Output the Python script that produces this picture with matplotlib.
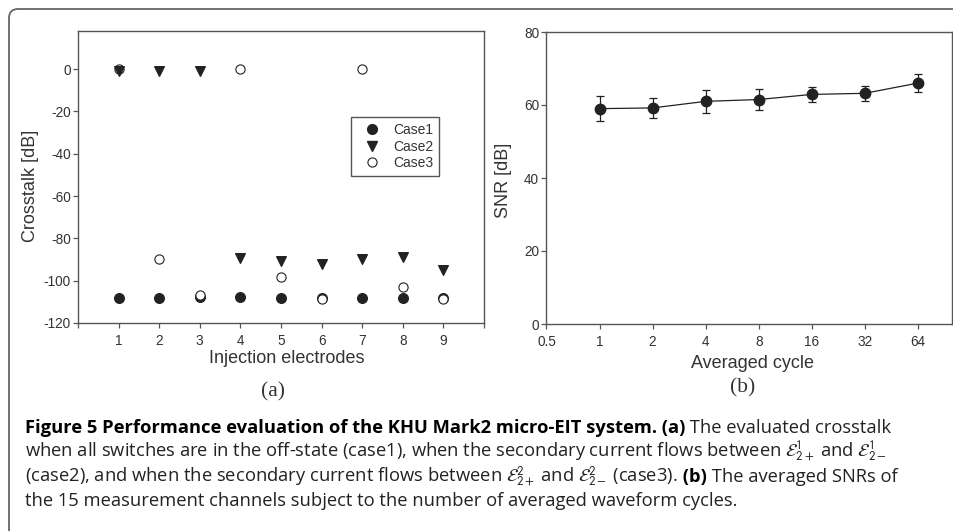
import numpy as np
import matplotlib
matplotlib.use('Agg')
import matplotlib.pyplot as plt
from matplotlib import font_manager
from matplotlib.lines import Line2D
from matplotlib.patches import FancyBboxPatch
from matplotlib.transforms import IdentityTransform

# Panel (a): crosstalk per injection electrode
electrodes = [1, 2, 3, 4, 5, 6, 7, 8, 9]
case1 = [-108.0, -108.0, -107.8, -107.6, -108.0, -108.4, -108.0, -108.2, -108.3]
case2 = [-0.8, -0.8, -0.8, -89.4, -90.6, -92.1, -89.6, -88.7, -95.0]
case3 = [0.2, -89.8, -106.6, 0.2, -98.4, -108.6, 0.2, -102.8, -108.8]

# Panel (b): SNR vs averaged cycles
cycles = [1, 2, 4, 8, 16, 32, 64]
snr = [59.0, 59.2, 61.0, 61.5, 62.9, 63.2, 66.0]
snr_err = [3.4, 2.7, 3.2, 2.9, 2.1, 2.0, 2.5]
cycle_ticks = [0.5, 1, 2, 4, 8, 16, 32, 64]
cycle_labels = ['0.5', '1', '2', '4', '8', '16', '32', '64']

W, H = 954, 531
plt.rcParams['font.family'] = ['Liberation Sans', 'DejaVu Sans']
plt.rcParams['axes.unicode_minus'] = False
plt.rcParams['mathtext.fontset'] = 'stixsans'

mk = '#222222'
spine_c = '#555555'
txt_c = '#333333'

fig = plt.figure(figsize=(W / 100, H / 100), dpi=100)

# outer frame, clipped at right and bottom like the page crop
frame = FancyBboxPatch((9, -60), 1100, H - 9 + 60, boxstyle='round,pad=0,rounding_size=9',
                       transform=IdentityTransform(), facecolor='none', edgecolor='#666666', lw=1.3)
fig.add_artist(frame)


def style_axes(ax):
    for s in ax.spines.values():
        s.set_color(spine_c)
        s.set_linewidth(1.0)
    ax.tick_params(direction='out', length=3.8, width=0.9, color=spine_c,
                   labelsize=9.8, labelcolor=txt_c, top=False, right=False)
    ax.tick_params(axis='x', pad=4)
    ax.tick_params(axis='y', pad=1.5)


# ---- panel (a)
ax1 = fig.add_axes([78 / W, 1 - 323 / H, 406 / W, 292 / H])
ax1.scatter(electrodes, case1, s=48, marker='o', color=mk, zorder=3)
ax1.scatter(electrodes, case3, s=44, marker='o', facecolor='white', edgecolor=mk, linewidth=0.8, zorder=4)
ax1.scatter(electrodes, case2, s=48, marker='v', color=mk, zorder=5)
ax1.set_xlim(0, 10)
ax1.set_ylim(-120, 18)
ax1.set_xticks(range(0, 11))
ax1.set_xticklabels([''] + [str(e) for e in electrodes] + [''])
ax1.set_yticks(range(-120, 1, 20))
style_axes(ax1)
ax1.set_ylabel('Crosstalk [dB]', fontsize=13, color=txt_c)
ax1.set_xlabel('Injection electrodes', fontsize=13, color=txt_c)
ax1.yaxis.set_label_coords(-0.097, 0.47)
ax1.xaxis.set_label_coords(0.515, -0.094)

handles = [
    Line2D([], [], ls='none', marker='o', ms=7, color=mk),
    Line2D([], [], ls='none', marker='v', ms=7, color=mk),
    Line2D([], [], ls='none', marker='o', ms=6.6, mfc='white', mec=mk, mew=0.8),
]
leg = ax1.legend(handles, ['Case1', 'Case2', 'Case3'], loc='upper left', bbox_to_anchor=(0.672, 0.705),
                 borderaxespad=0, fontsize=10, labelspacing=0.18, borderpad=0.44, handlelength=2.2,
                 handletextpad=0.4, fancybox=False, framealpha=1, edgecolor=spine_c)
leg.get_frame().set_linewidth(1.0)
for t in leg.get_texts():
    t.set_color(txt_c)

# ---- panel (b)
ax2 = fig.add_axes([546.5 / W, 1 - 324 / H, 405.5 / W, 292 / H])
ax2.errorbar(cycles, snr, yerr=snr_err, marker='o', ms=7.5, color=mk, lw=0.9,
             elinewidth=0.9, capsize=3.2, capthick=0.9)
ax2.set_xscale('log', base=2)
ax2.set_xlim(0.5, 100)
ax2.set_ylim(0, 80)
ax2.set_xticks(cycle_ticks)
ax2.set_xticklabels(cycle_labels)
ax2.minorticks_off()
ax2.set_yticks(range(0, 81, 20))
style_axes(ax2)
ax2.set_ylabel('SNR [dB]', fontsize=13, color=txt_c)
ax2.set_xlabel('Averaged cycle', fontsize=13, color=txt_c)
ax2.yaxis.set_label_coords(-0.085, 0.493)
ax2.xaxis.set_label_coords(0.507, -0.106)

fig.text(273 / W, 1 - 392 / H, '(a)', family='Liberation Serif', fontsize=15.5, color=txt_c,
         ha='center', va='center')
fig.text(743 / W, 1 - 388 / H, '(b)', family='Liberation Serif', fontsize=15.5, color=txt_c,
         ha='center', va='center')

# ---- caption
available = {f.name for f in font_manager.fontManager.ttflist}
cap_font = next((f for f in ['Open Sans', 'Noto Sans', 'Lato'] if f in available), 'DejaVu Sans')

caption = [
    [('Figure 5 Performance evaluation of the KHU Mark2 micro-EIT system. (a)', 'bold'),
     (' The evaluated crosstalk', 'normal')],
    [(r'when all switches are in the off-state (case1), when the secondary current flows between '
      r'$\mathcal{E}^{1}_{2+}$ and $\mathcal{E}^{1}_{2-}$', 'normal')],
    [(r'(case2), and when the secondary current flows between $\mathcal{E}^{2}_{2+}$ and '
      r'$\mathcal{E}^{2}_{2-}$ (case3).', 'normal'),
     (' (b)', 'bold'), (' The averaged SNRs of', 'normal')],
    [('the 15 measurement channels subject to the number of averaged waveform cycles.', 'normal')],
]
baselines = [433, 457.5, 482, 506]
cap_x = 25
renderer = fig.canvas.get_renderer()


def draw_line(pieces, y, size):
    x = cap_x
    arts = []
    for s, w in pieces:
        t = fig.text(x / W, 1 - y / H, s, family=cap_font, fontsize=size, fontweight=w,
                     color='#000000' if w == 'bold' else '#222222', ha='left', va='baseline')
        x += t.get_window_extent(renderer).width
        arts.append(t)
    return x - cap_x, arts


# fit the caption font size so the first line spans the same width
w0, tmp = draw_line(caption[0], baselines[0], 10)
for t in tmp:
    t.remove()
cap_size = 10 * 865 / w0

for pieces, y in zip(caption, baselines):
    draw_line(pieces, y, cap_size)

fig.savefig('out.png', dpi=100)
